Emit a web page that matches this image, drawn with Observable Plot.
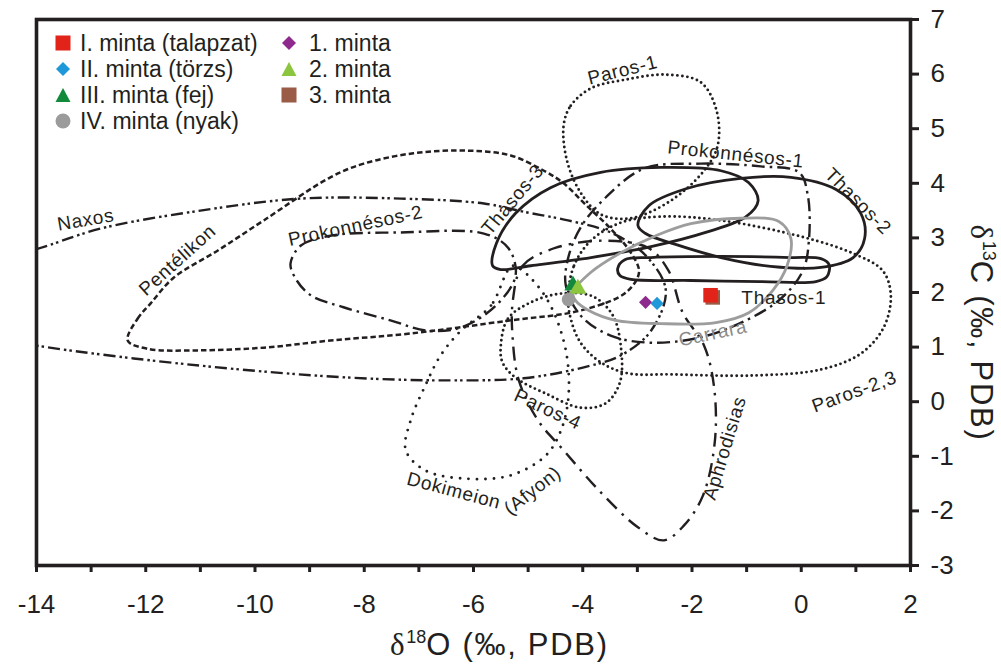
<!DOCTYPE html>
<html><head><meta charset="utf-8">
<script src="https://cdn.jsdelivr.net/npm/d3@7"></script>
<script src="https://cdn.jsdelivr.net/npm/@observablehq/plot@0.6"></script>
<style>
body{margin:0;background:#fff;}
#wrap{position:relative;width:1001px;height:664px;font-family:"Liberation Sans",Arial,sans-serif;color:#231f20;overflow:hidden;}
#chart{position:absolute;left:0;top:0;}
.item{position:absolute;white-space:nowrap;display:flex;align-items:center;height:26px;font-size:23px;}
.item svg{margin-right:8px;}
.axl{position:absolute;font-size:31px;white-space:nowrap;line-height:34px;letter-spacing:1.7px;}
.axl .d{font-family:"Liberation Serif","DejaVu Serif",serif;}
.axl sup{font-size:18px;vertical-align:12px;line-height:0;letter-spacing:0;}
#chart g[aria-label="text"] text{letter-spacing:0.7px;}
</style></head>
<body>
<div id="wrap">
<div id="chart"></div>
<div id="legend"></div>
<div class="axl" id="xlab" style="left:390px;top:628px;"><span class="d">δ</span><sup>18</sup>O (‰, PDB)</div>
<div class="axl" id="ylab" style="left:781px;top:316px;width:400px;height:34px;text-align:center;transform:rotate(90deg);transform-origin:50% 50%;"><span class="d">δ</span><sup>13</sup>C (‰, PDB)</div>
</div>
<script>
// ---- samples (δ18O, δ13C) ----
const sampleNames = ["III. minta (fej)","2. minta","IV. minta (nyak)","1. minta","II. minta (törzs)","3. minta","I. minta (talapzat)"];
const sampleO = [-4.18,-4.09,-4.26,-2.85,-2.64,-1.62,-1.66];
const sampleC = [2.13,2.07,1.87,1.82,1.80,1.91,1.95];

// legend order
const legendNames = ["I. minta (talapzat)","II. minta (törzs)","III. minta (fej)","IV. minta (nyak)","1. minta","2. minta","3. minta"];

// ---- reference fields (δ18O, δ13C outlines) ----
const naxos = [[-16,2.3],[-14.02,2.79],[-12.83,3.17],[-11.0,3.50],[-9.16,3.72],[-7.33,3.72],[-5.81,3.63],[-5.04,3.47],[-4.27,3.32],[-3.49,3.10],[-2.85,2.68],[-2.48,2.04],[-2.75,1.30],[-3.30,0.85],[-3.98,0.63],[-5.08,0.43],[-6.42,0.39],[-8.25,0.44],[-11.0,0.66],[-14.02,1.03],[-16,1.4]];
const pentelikon = [[-12.33,1.12],[-12.15,1.52],[-11.91,1.80],[-11.49,2.27],[-10.68,2.77],[-9.84,3.32],[-8.62,4.11],[-8.01,4.36],[-7.10,4.55],[-6.18,4.60],[-5.32,4.51],[-4.71,4.23],[-4.35,4.00],[-3.95,3.61],[-3.49,3.17],[-3.12,2.73],[-2.97,2.37],[-3.21,2.0],[-4.04,1.67],[-5.32,1.49],[-7.15,1.25],[-8.62,1.12],[-9.84,0.99],[-11.05,0.94],[-11.97,0.97]];
const prokonnesos2 = [[-9.35,2.53],[-9.16,2.86],[-8.62,3.04],[-7.33,3.10],[-5.81,3.08],[-5.36,2.81],[-5.23,2.31],[-5.59,1.76],[-6.23,1.36],[-6.84,1.30],[-7.52,1.49],[-8.38,1.73],[-8.98,1.95],[-9.26,2.26]];
const prokonnesos1 = [[-2.88,4.27],[-1.84,4.36],[-0.74,4.31],[-0.04,4.20],[0.12,3.78],[0.14,2.95],[0.03,2.40],[-0.37,1.89],[-1.01,1.49],[-1.84,1.18],[-2.75,1.08],[-3.49,1.21],[-4.04,1.58],[-4.31,2.13],[-4.27,2.62],[-4.04,3.19],[-3.58,3.74]];
const aphrodisias = [[-5.28,1.85],[-5.10,2.49],[-4.49,2.82],[-3.58,2.95],[-2.79,2.81],[-2.43,2.40],[-2.17,1.63],[-1.78,1.03],[-1.60,0.30],[-1.58,-0.71],[-1.80,-1.72],[-2.15,-2.27],[-2.52,-2.54],[-2.99,-2.30],[-3.67,-1.66],[-4.35,-0.89],[-4.82,-0.34],[-5.17,0.39],[-5.28,1.12]];
const thasos3 = [[-5.65,2.49],[-5.58,2.90],[-5.23,3.45],[-4.59,3.92],[-3.67,4.20],[-2.57,4.29],[-1.47,4.23],[-0.96,4.01],[-0.79,3.68],[-1.01,3.39],[-1.75,3.10],[-2.75,2.84],[-3.85,2.64],[-4.95,2.49],[-5.50,2.42]];
const thasos2 = [[-2.99,3.23],[-2.79,3.59],[-2.11,3.90],[-1.11,4.09],[-0.19,4.11],[0.63,3.89],[1.09,3.45],[1.16,2.99],[0.95,2.64],[0.36,2.46],[-0.56,2.48],[-1.47,2.64],[-2.30,2.88],[-2.85,3.08]];
const thasos1 = [[-3.36,2.44],[-3.23,2.60],[-2.75,2.64],[-1.47,2.66],[-0.19,2.64],[0.36,2.62],[0.51,2.51],[0.47,2.29],[0.27,2.20],[-0.74,2.20],[-2.02,2.22],[-3.12,2.24],[-3.32,2.31]];
const carrara = [[-4.18,2.0],[-3.85,2.37],[-3.30,2.73],[-2.66,3.04],[-2.02,3.26],[-1.11,3.36],[-0.41,3.30],[-0.19,2.99],[-0.26,2.49],[-0.52,2.04],[-0.96,1.63],[-1.56,1.45],[-2.57,1.43],[-3.40,1.49],[-3.89,1.67],[-4.13,1.85]];
const paros1 = [[-4.35,5.06],[-4.22,5.42],[-3.85,5.74],[-3.21,5.90],[-2.48,5.99],[-1.84,5.85],[-1.55,5.33],[-1.53,4.69],[-1.78,4.23],[-2.39,3.68],[-3.12,3.36],[-3.67,3.43],[-4.04,3.83],[-4.29,4.42]];
const paros23 = [[-4.27,1.91],[-4.16,2.49],[-3.85,2.95],[-3.30,3.28],[-2.57,3.39],[-1.47,3.32],[0.05,3.01],[0.96,2.71],[1.49,2.40],[1.64,1.95],[1.51,1.36],[1.09,0.88],[0.36,0.59],[-0.87,0.48],[-2.39,0.50],[-3.18,0.52],[-3.67,0.72],[-4.04,1.08],[-4.22,1.52]];
const paros4 = [[-5.50,1.03],[-5.37,1.52],[-4.95,1.82],[-4.40,1.98],[-3.82,1.93],[-3.45,1.58],[-3.30,0.99],[-3.32,0.35],[-3.58,-0.03],[-4.04,-0.11],[-4.68,0.15],[-5.23,0.44],[-5.47,0.72]];
const dokimeion = [[-5.28,2.49],[-5.68,1.76],[-6.23,1.30],[-6.60,0.85],[-6.88,0.30],[-7.15,-0.34],[-7.24,-0.89],[-6.88,-1.26],[-6.14,-1.41],[-5.32,-1.35],[-4.68,-0.99],[-4.40,-0.53],[-4.26,0.11],[-4.31,0.94],[-4.59,1.76],[-4.95,2.26]];

// field labels
const labelText = ["Naxos","Pentélikon","Prokonnésos-2","Thasos-3","Paros-1","Prokonnésos-1","Thasos-2","Thasos-1","Carrara","Paros-2,3","Paros-4","Dokimeion","(Afyon)","Aphrodisias"];
const labelO = [-13.10,-11.42,-8.16,-5.28,-3.27,-1.20,1.04,-0.32,-1.62,0.97,-4.64,-6.36,-4.92,-1.40];
const labelC = [3.33,2.59,3.22,3.70,6.07,4.53,3.67,1.91,1.25,0.18,-0.14,-1.63,-1.63,-0.85];
const labelAngle = [-10,-42,-12,-50,-14,6,45,0,-12,-20,25,15,-38,-73];

// ---- styles ----
const ink = "#231f20";
const fieldStyles = [
  {data: naxos, stroke: ink, w: 2.4, dash: "12,4,2.5,3,2.5,4", cap: "butt"},
  {data: pentelikon, stroke: ink, w: 2.5, dash: "5.5,3", cap: "butt"},
  {data: prokonnesos2, stroke: ink, w: 2.4, dash: "13,5,2.5,5", cap: "butt"},
  {data: prokonnesos1, stroke: ink, w: 2.4, dash: "13,5,2.5,5", cap: "butt"},
  {data: aphrodisias, stroke: ink, w: 2.4, dash: "14,7,2.5,7", cap: "butt"},
  {data: paros1, stroke: ink, w: 2.9, dash: "0,5", cap: "round"},
  {data: paros23, stroke: ink, w: 2.9, dash: "0,5", cap: "round"},
  {data: paros4, stroke: ink, w: 2.9, dash: "0,5", cap: "round"},
  {data: dokimeion, stroke: ink, w: 2.9, dash: "0,8.5", cap: "round"},
  {data: thasos3, stroke: ink, w: 2.8, dash: null, cap: "round"},
  {data: thasos2, stroke: ink, w: 2.8, dash: null, cap: "round"},
  {data: thasos1, stroke: ink, w: 2.8, dash: null, cap: "round"},
  {data: carrara, stroke: "#9d9d9d", w: 2.8, dash: null, cap: "round"}
];
const sampleStyle = {
  "I. minta (talapzat)": {symbol: "square", fill: "#e2231a", r: 8.2},
  "II. minta (törzs)": {symbol: "diamond2", fill: "#1e98d8", r: 5.9},
  "III. minta (fej)": {symbol: "triangle", fill: "#138a3b", r: 6.4},
  "IV. minta (nyak)": {symbol: "circle", fill: "#9b9b9b", r: 6.8},
  "1. minta": {symbol: "diamond2", fill: "#8e2a8e", r: 5.9},
  "2. minta": {symbol: "triangle", fill: "#8cc63f", r: 6.4},
  "3. minta": {symbol: "square", fill: "#9a5b47", r: 8.2}
};

const samples = sampleNames.map((n, i) => ({name: n, o: sampleO[i], c: sampleC[i]}));
const labels = labelText.map((t, i) => ({t, o: labelO[i], c: labelC[i], a: labelAngle[i]}));

const marks = [];
for (const f of fieldStyles) {
  marks.push(Plot.line(f.data, {
    x: d => d[0], y: d => d[1], curve: "catmull-rom-closed",
    stroke: f.stroke, strokeWidth: f.w, strokeDasharray: f.dash || undefined,
    strokeLinecap: f.cap, strokeLinejoin: "round", clip: true
  }));
}
marks.push(Plot.text(labels, {
  x: "o", y: "c", text: "t", rotate: "a", fontSize: 19,
  fill: d => d.t === "Carrara" ? "#8a8a8a" : ink,
  fontWeight: d => d.t === "Carrara" ? "bold" : "normal",
  clip: true
}));
for (const s of samples) {
  const st = sampleStyle[s.name];
  marks.push(Plot.dot([s], {x: "o", y: "c", symbol: () => st.symbol, r: st.r, fill: st.fill, stroke: "none"}));
}
marks.push(Plot.frame({stroke: ink, strokeWidth: 3.6}));
marks.push(Plot.axisX({
  ticks: d3.range(-14, 3, 1), tickSize: 7, tickPadding: 22, strokeWidth: 3, stroke: ink,
  tickFormat: d => (d % 2 === 0 ? String(d) : ""), label: null, fill: ink
}));
marks.push(Plot.axisY({
  anchor: "right", ticks: d3.range(-3, 8, 1), tickSize: 8, tickPadding: 12, strokeWidth: 3, stroke: ink,
  tickFormat: d => String(d), label: null, fill: ink
}));

const chart = Plot.plot({
  width: 1001, height: 664,
  marginLeft: 36, marginRight: 91, marginTop: 19, marginBottom: 99,
  x: {domain: [-14, 2]},
  y: {domain: [-3, 7]},
  symbol: {type: "identity"},
  style: {fontFamily: "'Liberation Sans', Arial, sans-serif", fontSize: "26px", color: ink, background: "transparent"},
  marks
});
document.getElementById("chart").appendChild(chart);

// ---- legend (HTML) ----
const shapeSvg = (st) => {
  const f = st.fill;
  let shape;
  if (st.symbol === "square") shape = `<rect x="1.5" y="1.5" width="15" height="15" fill="${f}"/>`;
  else if (st.symbol === "diamond2") shape = `<polygon points="9,2 16,9 9,16 2,9" fill="${f}"/>`;
  else if (st.symbol === "triangle") shape = `<polygon points="9,2 16.5,16 1.5,16" fill="${f}"/>`;
  else shape = `<circle cx="9" cy="9" r="7.5" fill="${f}"/>`;
  return `<svg width="18" height="18" viewBox="0 0 18 18">${shape}</svg>`;
};
const leg = document.getElementById("legend");
legendNames.forEach((n, i) => {
  const col = i < 4 ? 0 : 1, row = i < 4 ? i : i - 4;
  const div = document.createElement("div");
  div.className = "item";
  div.style.left = (col === 0 ? 54 : 280) + "px";
  div.style.top = (30 + row * 26) + "px";
  div.innerHTML = shapeSvg(sampleStyle[n]) + `<span${col === 1 ? ' style="margin-left:3px"' : ''}>${n}</span>`;
  leg.appendChild(div);
});
</script>
</body></html>
